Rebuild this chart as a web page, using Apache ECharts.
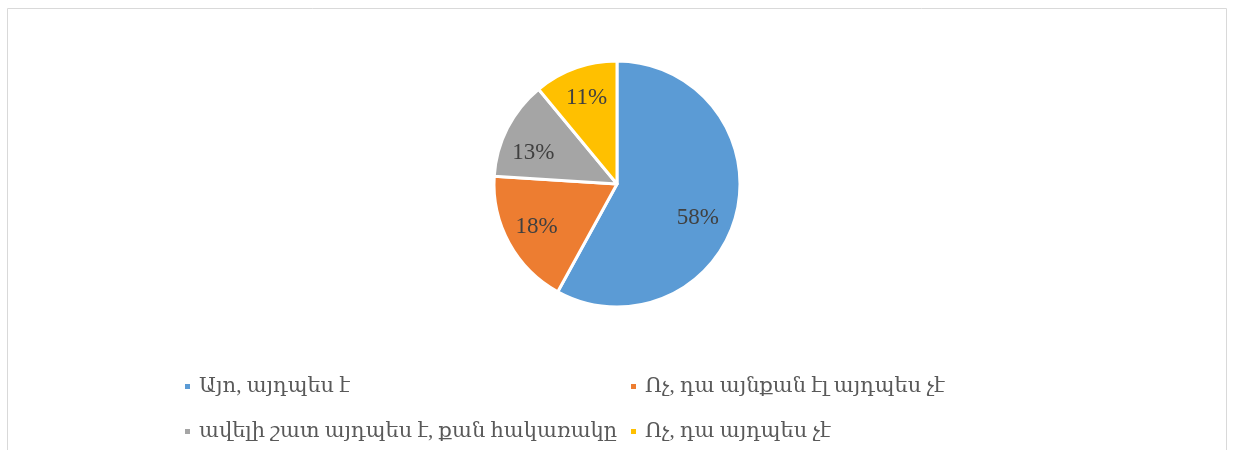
<!DOCTYPE html>
<html>
<head>
<meta charset="utf-8">
<script src="https://cdn.jsdelivr.net/npm/echarts@6/dist/echarts.min.js"></script>
<style>
  html, body { margin: 0; padding: 0; background: #fff; }
  #chart { width: 1233px; height: 450px; }
</style>
</head>
<body>
<div id="chart"></div>
<script>
// answer categories and their shares (%)
var categories = [
  'Այո, այդպես է',
  'Ոչ, դա այնքան էլ այդպես չէ',
  'ավելի շատ այդպես է, քան հակառակը',
  'Ոչ, դա այդպես չէ'
]
var values = [58, 18, 13, 11]
var colors = ['#5B9BD5', '#ED7D31', '#A5A5A5', '#FFC000']

var serif = '"Liberation Serif", "DejaVu Serif", serif'
var center = [617, 184]
var radius = 123
// small nudges so labels sit where the original puts them (best fit)
var labelNudge = [[-9, 11], [1, -2], [-1, 11], [1, 1]]

var pieData = categories.map(function(name, i) {
  return { name: name, value: values[i], itemStyle: { color: colors[i] }}
})

var legendText = { fontFamily: serif, fontSize: 21, color: '#595959', padding: [0, 0, 0, 3] }

var chart = echarts.init(document.getElementById('chart'))
chart.setOption({
  animation: false,
  graphic: [
    {
      type: 'rect',
      shape: { x: 7.5, y: 8.5, width: 1219, height: 460 },
      style: { fill: 'none', stroke: '#d9d9d9', lineWidth: 1 },
      silent: true
    }
  ],
  legend: [
    {
      orient: 'vertical',
      left: 178,
      top: 371,
      itemGap: 24,
      itemWidth: 7,
      itemHeight: 7,
      icon: 'rect',
      data: [categories[0], categories[2]],
      textStyle: legendText
    },
    {
      orient: 'vertical',
      left: 624,
      top: 371,
      itemGap: 24,
      itemWidth: 7,
      itemHeight: 7,
      icon: 'rect',
      data: [categories[1], categories[3]],
      textStyle: legendText
    }
  ],
  series: [
    {
      name: 'pie',
      type: 'pie',
      center: center,
      radius: radius,
      startAngle: 90,
      clockwise: true,
      label: { show: false },
      labelLine: { show: false },
      emphasis: { disabled: true },
      itemStyle: { borderColor: '#fff', borderWidth: 3 },
      data: pieData
    },
    {
      // transparent ring only used to place the labels further out
      name: 'labels',
      type: 'pie',
      center: center,
      radius: [radius * 0.46, radius],
      startAngle: 90,
      clockwise: true,
      silent: true,
      emphasis: { disabled: true },
      itemStyle: { color: 'rgba(0,0,0,0)', borderWidth: 0 },
      label: {
        show: true,
        position: 'inside',
        formatter: '{c}%',
        fontFamily: serif,
        fontSize: 23,
        color: '#404040'
      },
      labelLayout: function(params) {
        var n = labelNudge[params.dataIndex]
        return { dx: n[0], dy: n[1] }
      },
      labelLine: { show: false },
      data: categories.map(function(name, i) {
        return { name: name, value: values[i] }
      })
    }
  ]
})
</script>
</body>
</html>
